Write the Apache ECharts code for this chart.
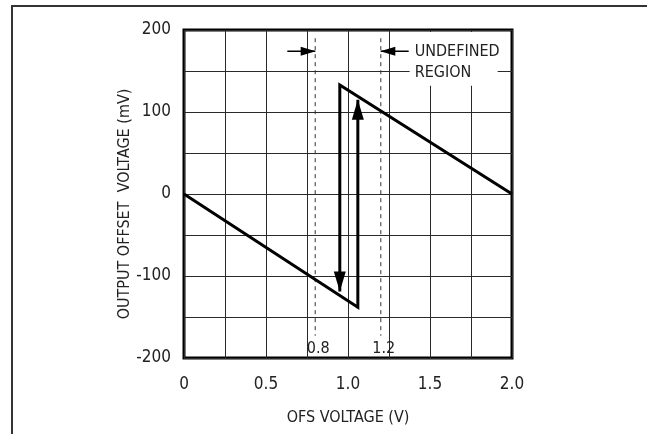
<!DOCTYPE html>
<html>
<head>
<meta charset="utf-8">
<script src="https://cdn.jsdelivr.net/npm/echarts@6/dist/echarts.min.js"></script>
<style>
  html, body { margin: 0; padding: 0; background: #fff; }
  #chart { width: 647px; height: 434px; }
</style>
</head>
<body>
<div id="chart"></div>
<script>
const FONT = "'Liberation Sans Narrow', 'DejaVu Sans Condensed', 'Liberation Sans', sans-serif";

// tick labels that are shown (grid is every 0.25 V / 50 mV)
const xTickLabels = [0, 0.5, 1.0, 1.5, 2.0];
const yTickLabels = [-200, -100, 0, 100, 200];

// branch starting at 0 V, jumps up near 1.06 V (arrow up)
const riseX = [0, 1.06, 1.06];
const riseY = [0, -138, 115];
// branch starting at 2.0 V, drops near 0.95 V (arrow down)
const fallX = [2.0, 0.95, 0.95];
const fallY = [0, 133, -119];

// undefined region limits (dashed)
const bandX = [0.8, 1.2];
const bandLabels = ['0.8', '1.2'];
const bandTop = 190;
const bandBottom = -173;
// small pointers at the top of the dashed lines
const pointerFromX = [0.63, 1.37];
const pointerY = 174;

const chart = echarts.init(document.getElementById('chart'));

function zip(xs, ys) {
  return xs.map(function (x, i) { return [x, ys[i]]; });
}

function arrowSeries(xs, ys, rotate, offset, width, size) {
  let pts = zip(xs, ys);
  let data = pts.map(function (p, i) {
    if (i === pts.length - 1) {
      return {
        value: p,
        symbol: 'triangle',
        symbolSize: size,
        symbolRotate: rotate,
        symbolOffset: offset,
        itemStyle: {color: '#000'}
      };
    }
    return {value: p};
  });
  return {
    type: 'line',
    data: data,
    symbol: 'none',
    silent: true,
    z: 5,
    lineStyle: {color: '#000', width: width, cap: 'butt', join: 'miter'},
    animation: false
  };
}

let series = [];
series.push(arrowSeries(riseX, riseY, 0, [0, 10], 3, [12, 20]));
series.push(arrowSeries(fallX, fallY, 180, [0, -10], 3, [12, 20]));

bandX.forEach(function (x, i) {
  series.push({
    type: 'line',
    data: [[x, bandTop], [x, bandBottom]],
    symbol: 'none',
    silent: true,
    z: 3,
    lineStyle: {color: '#333', width: 1, type: [4, 4]},
    animation: false
  });
  // pointer arrow toward the dashed line
  series.push(arrowSeries([pointerFromX[i], x], [pointerY, pointerY],
    i === 0 ? -90 : 90, i === 0 ? [-7, 0] : [7, 0], 1.6, [9, 15]));
});

chart.setOption({
  backgroundColor: '#fff',
  animation: false,
  grid: {
    left: 184, top: 30, width: 328, height: 328,
    show: true, borderColor: '#000', borderWidth: 3, backgroundColor: 'transparent'
  },
  xAxis: {
    type: 'value', min: 0, max: 2, interval: 0.25,
    axisLine: {show: false}, axisTick: {show: false},
    splitLine: {show: true, lineStyle: {color: '#2a2a2a', width: 1}},
    axisLabel: {
      margin: 18, color: '#222', fontFamily: FONT, fontSize: 17,
      formatter: function (v) {
        if (xTickLabels.indexOf(v) < 0) return '';
        return v === 0 ? '0' : v.toFixed(1);
      }
    },
    name: 'OFS VOLTAGE (V)', nameLocation: 'middle', nameGap: 52,
    nameTextStyle: {color: '#222', fontFamily: FONT, fontSize: 16}
  },
  yAxis: {
    type: 'value', min: -200, max: 200, interval: 50,
    axisLine: {show: false}, axisTick: {show: false},
    splitLine: {show: true, lineStyle: {color: '#2a2a2a', width: 1}},
    axisLabel: {
      margin: 13, color: '#222', fontFamily: FONT, fontSize: 17,
      formatter: function (v) {
        return yTickLabels.indexOf(v) < 0 ? '' : String(v);
      }
    }
  },
  series: series
});

// annotations placed through the axes
let g = [];
bandX.forEach(function (x, i) {
  let p = chart.convertToPixel({gridIndex: 0}, [x, bandBottom]);
  g.push({
    type: 'text', x: p[0] + 3, y: p[1] + 13, z: 10,
    style: {text: bandLabels[i], fill: '#222', font: '16px ' + FONT, align: 'center', verticalAlign: 'middle'}
  });
});

let boxLeft = chart.convertToPixel({gridIndex: 0}, [pointerFromX[1], 200]);
let boxBottom = chart.convertToPixel({gridIndex: 0}, [0, 132]);
g.push({
  type: 'rect', z: 2,
  shape: {x: boxLeft[0] + 1, y: boxLeft[1] + 2, width: 88, height: boxBottom[1] - boxLeft[1] - 2},
  style: {fill: '#fff'}
});
// first line centred on the pointer
let ptr = chart.convertToPixel({gridIndex: 0}, [pointerFromX[1], pointerY]);
g.push({
  type: 'text', x: ptr[0] + 6, y: ptr[1] - 10, z: 10,
  style: {text: 'UNDEFINED\nREGION', fill: '#222', font: '16px ' + FONT, lineHeight: 21, align: 'left', verticalAlign: 'top'}
});

g.push({
  type: 'text', x: 125, y: 204, rotation: Math.PI / 2, z: 10,
  style: {text: 'OUTPUT OFFSET  VOLTAGE (mV)', fill: '#222', font: '16px ' + FONT, align: 'center', verticalAlign: 'middle'}
});

// outer frame (runs off the right and bottom edges)
g.push({
  type: 'rect', z: 0,
  shape: {x: 12, y: 6, width: 700, height: 500},
  style: {fill: 'none', stroke: '#333', lineWidth: 2}
});

chart.setOption({graphic: g});
</script>
</body>
</html>
